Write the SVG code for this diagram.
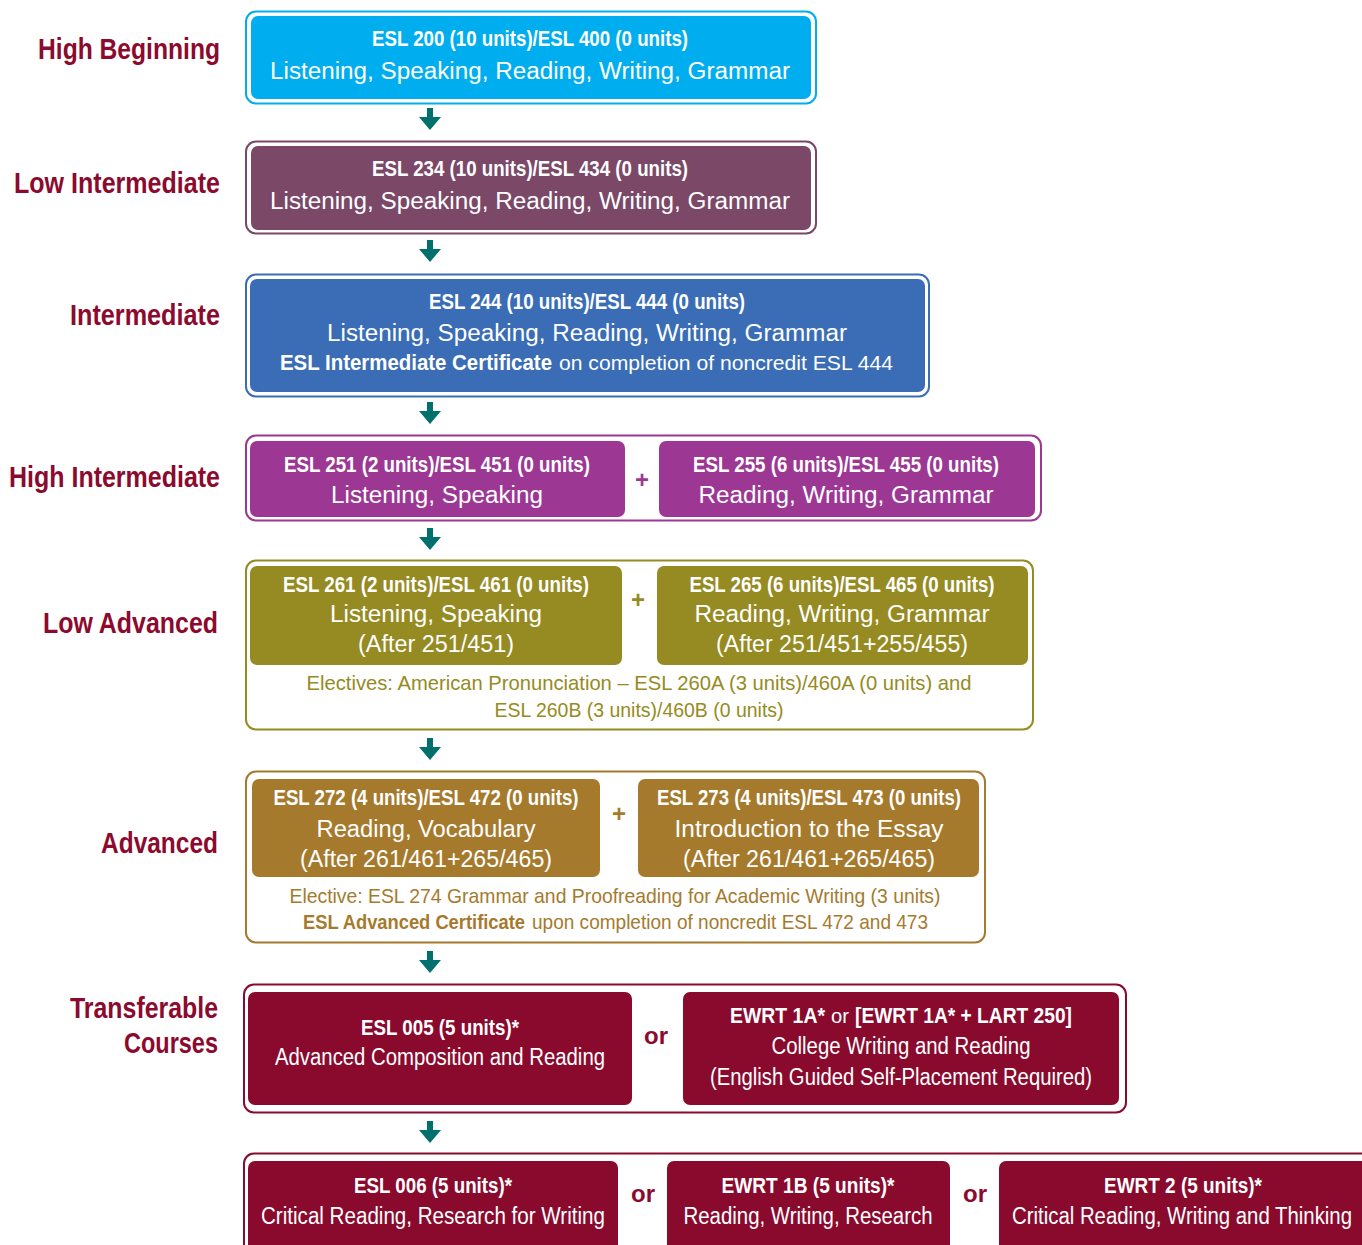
<svg xmlns="http://www.w3.org/2000/svg" width="1362" height="1245" viewBox="0 0 1362 1245">
<defs>
<style>
text{font-family:"Liberation Sans Narrow","Liberation Sans",Arial,sans-serif;}
.lbl{font-weight:bold;font-size:29px;fill:#8B0A2E;text-anchor:end;}
.h{font-weight:bold;font-size:22px;fill:#fff;text-anchor:middle;}
.t{font-size:23px;fill:#fff;text-anchor:middle;}
.hs{font-weight:bold;font-size:22px;fill:#fff;}
.ts{font-size:21px;fill:#fff;}
.n{font-size:21px;text-anchor:middle;}
.plus{font-weight:bold;font-size:24px;text-anchor:middle;}
.or{font-weight:bold;font-size:24px;fill:#8B0A2E;text-anchor:middle;}
.arrow{fill:#00706F;}
</style>
<path id="arr" d="M-3,0 H3 V9 H11 L0,22 L-11,9 H-3 Z"/>
</defs>
<rect width="1362" height="1245" fill="#fff"/>

<g id="labels">
<text class="lbl" x="220" y="59" textLength="182" lengthAdjust="spacingAndGlyphs">High Beginning</text>
<text class="lbl" x="220" y="193" textLength="206" lengthAdjust="spacingAndGlyphs">Low Intermediate</text>
<text class="lbl" x="220" y="325" textLength="150" lengthAdjust="spacingAndGlyphs">Intermediate</text>
<text class="lbl" x="220" y="487" textLength="211" lengthAdjust="spacingAndGlyphs">High Intermediate</text>
<text class="lbl" x="218" y="633" textLength="175" lengthAdjust="spacingAndGlyphs">Low Advanced</text>
<text class="lbl" x="218" y="853" textLength="117" lengthAdjust="spacingAndGlyphs">Advanced</text>
<text class="lbl" x="218" y="1018" textLength="148" lengthAdjust="spacingAndGlyphs">Transferable</text>
<text class="lbl" x="218" y="1053" textLength="94" lengthAdjust="spacingAndGlyphs">Courses</text>
</g>

<g id="connectors" class="arrow">
<use href="#arr" x="430" y="108"/>
<use href="#arr" x="430" y="240"/>
<use href="#arr" x="430" y="402"/>
<use href="#arr" x="430" y="528"/>
<use href="#arr" x="430" y="738"/>
<use href="#arr" x="430" y="951"/>
<use href="#arr" x="430" y="1121"/>
</g>

<g id="high-beginning">
<rect x="246" y="11.5" width="570" height="92" rx="10" fill="none" stroke="#00AEEF" stroke-width="2"/>
<rect x="251" y="16" width="560" height="83" rx="7" fill="#00AEEF"/>
<text class="h" x="530" y="46" textLength="316" lengthAdjust="spacingAndGlyphs">ESL 200 (10 units)/ESL 400 (0 units)</text>
<text class="t" x="530" y="79" textLength="520" lengthAdjust="spacingAndGlyphs">Listening, Speaking, Reading, Writing, Grammar</text>
</g>

<g id="low-intermediate">
<rect x="246" y="141.5" width="570" height="92" rx="10" fill="none" stroke="#7B4868" stroke-width="2"/>
<rect x="251" y="146" width="560" height="84" rx="7" fill="#7B4868"/>
<text class="h" x="530" y="176" textLength="316" lengthAdjust="spacingAndGlyphs">ESL 234 (10 units)/ESL 434 (0 units)</text>
<text class="t" x="530" y="209" textLength="520" lengthAdjust="spacingAndGlyphs">Listening, Speaking, Reading, Writing, Grammar</text>
</g>

<g id="intermediate">
<rect x="246" y="274.5" width="683" height="122" rx="10" fill="none" stroke="#3A6DB5" stroke-width="2"/>
<rect x="250" y="279" width="675" height="113" rx="7" fill="#3A6DB5"/>
<text class="h" x="587" y="309" textLength="316" lengthAdjust="spacingAndGlyphs">ESL 244 (10 units)/ESL 444 (0 units)</text>
<text class="t" x="587" y="341" textLength="520" lengthAdjust="spacingAndGlyphs">Listening, Speaking, Reading, Writing, Grammar</text>
<text class="hs" x="280" y="370" textLength="272" lengthAdjust="spacingAndGlyphs">ESL Intermediate Certificate</text>
<text class="ts" x="559" y="370" textLength="334" lengthAdjust="spacingAndGlyphs">on completion of noncredit ESL 444</text>
</g>

<g id="high-intermediate">
<rect x="246" y="435.5" width="795" height="85" rx="10" fill="none" stroke="#9C3894" stroke-width="2"/>
<rect x="250" y="441" width="375" height="76" rx="7" fill="#9C3894"/>
<rect x="659" y="441" width="376" height="76" rx="7" fill="#9C3894"/>
<text class="h" x="437" y="472" textLength="306" lengthAdjust="spacingAndGlyphs">ESL 251 (2 units)/ESL 451 (0 units)</text>
<text class="t" x="437" y="503" textLength="212" lengthAdjust="spacingAndGlyphs">Listening, Speaking</text>
<text class="plus" x="642" y="488" fill="#9C3894">+</text>
<text class="h" x="846" y="472" textLength="306" lengthAdjust="spacingAndGlyphs">ESL 255 (6 units)/ESL 455 (0 units)</text>
<text class="t" x="846" y="503" textLength="295" lengthAdjust="spacingAndGlyphs">Reading, Writing, Grammar</text>
</g>

<g id="low-advanced">
<rect x="246" y="560.5" width="787" height="169" rx="10" fill="none" stroke="#968B22" stroke-width="2"/>
<rect x="250" y="566" width="372" height="99" rx="7" fill="#968B22"/>
<rect x="657" y="566" width="371" height="99" rx="7" fill="#968B22"/>
<text class="h" x="436" y="592" textLength="306" lengthAdjust="spacingAndGlyphs">ESL 261 (2 units)/ESL 461 (0 units)</text>
<text class="t" x="436" y="622" textLength="212" lengthAdjust="spacingAndGlyphs">Listening, Speaking</text>
<text class="t" x="436" y="652" textLength="156" lengthAdjust="spacingAndGlyphs">(After 251/451)</text>
<text class="plus" x="638" y="608" fill="#968B22">+</text>
<text class="h" x="842" y="592" textLength="305" lengthAdjust="spacingAndGlyphs">ESL 265 (6 units)/ESL 465 (0 units)</text>
<text class="t" x="842" y="622" textLength="295" lengthAdjust="spacingAndGlyphs">Reading, Writing, Grammar</text>
<text class="t" x="842" y="652" textLength="252" lengthAdjust="spacingAndGlyphs">(After 251/451+255/455)</text>
<text class="n" x="639" y="690" fill="#968B22" textLength="665" lengthAdjust="spacingAndGlyphs">Electives: American Pronunciation – ESL 260A (3 units)/460A (0 units) and</text>
<text class="n" x="639" y="717" fill="#968B22" textLength="289" lengthAdjust="spacingAndGlyphs">ESL 260B (3 units)/460B (0 units)</text>
</g>

<g id="advanced">
<rect x="246" y="771.5" width="739" height="171" rx="10" fill="none" stroke="#A67A2D" stroke-width="2"/>
<rect x="252" y="779" width="348" height="98" rx="7" fill="#A67A2D"/>
<rect x="638" y="779" width="341" height="98" rx="7" fill="#A67A2D"/>
<text class="h" x="426" y="805" textLength="305" lengthAdjust="spacingAndGlyphs">ESL 272 (4 units)/ESL 472 (0 units)</text>
<text class="t" x="426" y="837" textLength="219" lengthAdjust="spacingAndGlyphs">Reading, Vocabulary</text>
<text class="t" x="426" y="867" textLength="252" lengthAdjust="spacingAndGlyphs">(After 261/461+265/465)</text>
<text class="plus" x="619" y="822" fill="#A67A2D">+</text>
<text class="h" x="809" y="805" textLength="304" lengthAdjust="spacingAndGlyphs">ESL 273 (4 units)/ESL 473 (0 units)</text>
<text class="t" x="809" y="837" textLength="269" lengthAdjust="spacingAndGlyphs">Introduction to the Essay</text>
<text class="t" x="809" y="867" textLength="252" lengthAdjust="spacingAndGlyphs">(After 261/461+265/465)</text>
<text class="n" x="615" y="903" fill="#A67A2D" textLength="651" lengthAdjust="spacingAndGlyphs">Elective: ESL 274 Grammar and Proofreading for Academic Writing (3 units)</text>
<text x="303" y="929" font-size="21" font-weight="bold" fill="#A67A2D" textLength="222" lengthAdjust="spacingAndGlyphs">ESL Advanced Certificate</text>
<text x="532" y="929" font-size="21" fill="#A67A2D" textLength="396" lengthAdjust="spacingAndGlyphs">upon completion of noncredit ESL 472 and 473</text>
</g>

<g id="transferable">
<rect x="244" y="984.5" width="882" height="128" rx="10" fill="none" stroke="#8A0A2D" stroke-width="2"/>
<rect x="248" y="992" width="384" height="113" rx="7" fill="#8A0A2D"/>
<rect x="683" y="992" width="436" height="113" rx="7" fill="#8A0A2D"/>
<text class="h" x="440" y="1035" textLength="158" lengthAdjust="spacingAndGlyphs">ESL 005 (5 units)*</text>
<text class="t" x="440" y="1065" font-size="22" textLength="330" lengthAdjust="spacingAndGlyphs">Advanced Composition and Reading</text>
<text class="or" x="656" y="1044">or</text>
<text class="hs" x="730" y="1023" textLength="95" lengthAdjust="spacingAndGlyphs">EWRT 1A*</text>
<text class="ts" x="831" y="1023" textLength="18" lengthAdjust="spacingAndGlyphs">or</text>
<text class="hs" x="855" y="1023" textLength="217" lengthAdjust="spacingAndGlyphs">[EWRT 1A* + LART 250]</text>
<text class="t" x="901" y="1054" font-size="22" textLength="259" lengthAdjust="spacingAndGlyphs">College Writing and Reading</text>
<text class="t" x="901" y="1085" font-size="22" textLength="382" lengthAdjust="spacingAndGlyphs">(English Guided Self-Placement Required)</text>
</g>

<g id="transferable-2">
<rect x="244" y="1153.5" width="1130" height="110" rx="10" fill="none" stroke="#8A0A2D" stroke-width="2"/>
<rect x="248" y="1161" width="370" height="100" rx="7" fill="#8A0A2D"/>
<rect x="667" y="1161" width="283" height="100" rx="7" fill="#8A0A2D"/>
<rect x="999" y="1161" width="380" height="100" rx="7" fill="#8A0A2D"/>
<text class="h" x="433" y="1193" textLength="158" lengthAdjust="spacingAndGlyphs">ESL 006 (5 units)*</text>
<text class="t" x="433" y="1224" font-size="22" textLength="344" lengthAdjust="spacingAndGlyphs">Critical Reading, Research for Writing</text>
<text class="or" x="643" y="1202">or</text>
<text class="h" x="808" y="1193" textLength="173" lengthAdjust="spacingAndGlyphs">EWRT 1B (5 units)*</text>
<text class="t" x="808" y="1224" font-size="22" textLength="249" lengthAdjust="spacingAndGlyphs">Reading, Writing, Research</text>
<text class="or" x="975" y="1202">or</text>
<text class="h" x="1183" y="1193" textLength="158" lengthAdjust="spacingAndGlyphs">EWRT 2 (5 units)*</text>
<text class="t" x="1182" y="1224" font-size="21" textLength="340" lengthAdjust="spacingAndGlyphs">Critical Reading, Writing and Thinking</text>
</g>
</svg>
